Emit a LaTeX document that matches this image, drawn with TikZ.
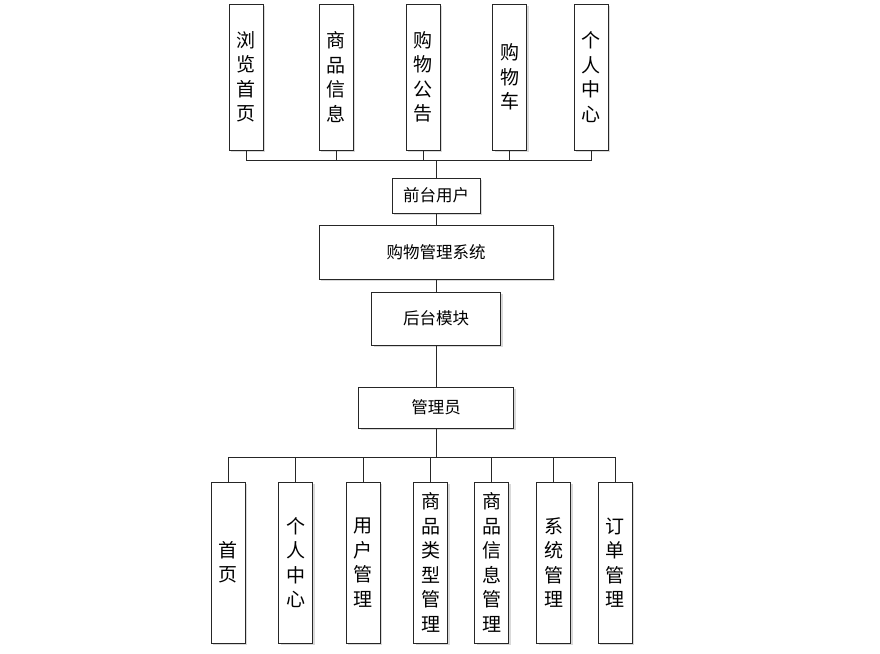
\documentclass[tikz,border=0pt]{standalone}
\usepackage{fontspec}
\newfontfamily\cjk{Noto Sans CJK SC}
\usepackage{xcolor}
\definecolor{cLine}{HTML}{262626}
\definecolor{cShadow}{HTML}{D9D9D9}
\usepackage{tikz}
\usetikzlibrary{positioning,shadows}
\tikzset{
  node-box/.style={draw=cLine,line width=0.9pt,fill=white,inner sep=0pt,outer sep=0pt,
    align=center,drop shadow={shadow xshift=2pt,shadow yshift=-2pt,fill=cShadow,opacity=1}},
  node-mid/.style={node-box,font=\cjk\fontsize{16.5}{20}\selectfont},
  node-col/.style={node-box,minimum width=34pt,font=\cjk\fontsize{19}{24.5}\selectfont},
  node-top/.style={node-col,minimum height=146pt},
  node-bot/.style={node-col,minimum height=161pt},
  line/.style={draw=cLine,line width=0.9pt},
}

\begin{document}
\begin{tikzpicture}[x=1pt,y=-1pt]
  \useasboundingbox (0,0) rectangle (880,653);
  % 前台五个功能
  \node[node-top] (t-browse) at (246,77)   {浏\\览\\首\\页};
  \node[node-top] (t-goods)  at (336,77)   {商\\品\\信\\息};
  \node[node-top] (t-notice) at (423,77)   {购\\物\\公\\告};
  \node[node-top] (t-cart)   at (509.5,77) {购\\物\\车};
  \node[node-top] (t-user)   at (591,77)   {个\\人\\中\\心};
  % 主干
  \node[node-mid,minimum width=88pt,minimum height=35pt]  (front) at (436,195.5) {前台用户};
  \node[node-mid,minimum width=234pt,minimum height=54pt] (sys)   at (436,252)   {购物管理系统};
  \node[node-mid,minimum width=129pt,minimum height=53pt] (back)  at (436,318.5) {后台模块};
  \node[node-mid,minimum width=155pt,minimum height=41pt] (admin) at (436,407.5) {管理员};
  % 后台七个功能
  \node[node-bot] (b-home)   at (228,562.5)   {首\\页};
  \node[node-bot] (b-center) at (295.5,562.5) {个\\人\\中\\心};
  \node[node-bot] (b-user)   at (363,562.5)   {用\\户\\管\\理};
  \node[node-bot] (b-type)   at (430.5,562.5) {商\\品\\类\\型\\管\\理};
  \node[node-bot] (b-goods)  at (491.5,562.5) {商\\品\\信\\息\\管\\理};
  \node[node-bot] (b-sys)    at (553.5,562.5) {系\\统\\管\\理};
  \node[node-bot] (b-order)  at (615,562.5)   {订\\单\\管\\理};
  % 总线
  \coordinate (bus-top) at (436,160);
  \coordinate (bus-bot) at (436,457);
  \foreach \n in {t-browse,t-goods,t-notice,t-cart,t-user}
    \draw[line] (\n.south) |- (bus-top);
  \draw[line] (bus-top) -- (front.north);
  \draw[line] (front.south) -- (sys.north);
  \draw[line] (sys.south) -- (back.north);
  \draw[line] (back.south) -- (admin.north);
  \draw[line] (admin.south) -- (bus-bot);
  \foreach \n in {b-home,b-center,b-user,b-type,b-goods,b-sys,b-order}
    \draw[line] (bus-bot) -| (\n.north);
\end{tikzpicture}
\end{document}
